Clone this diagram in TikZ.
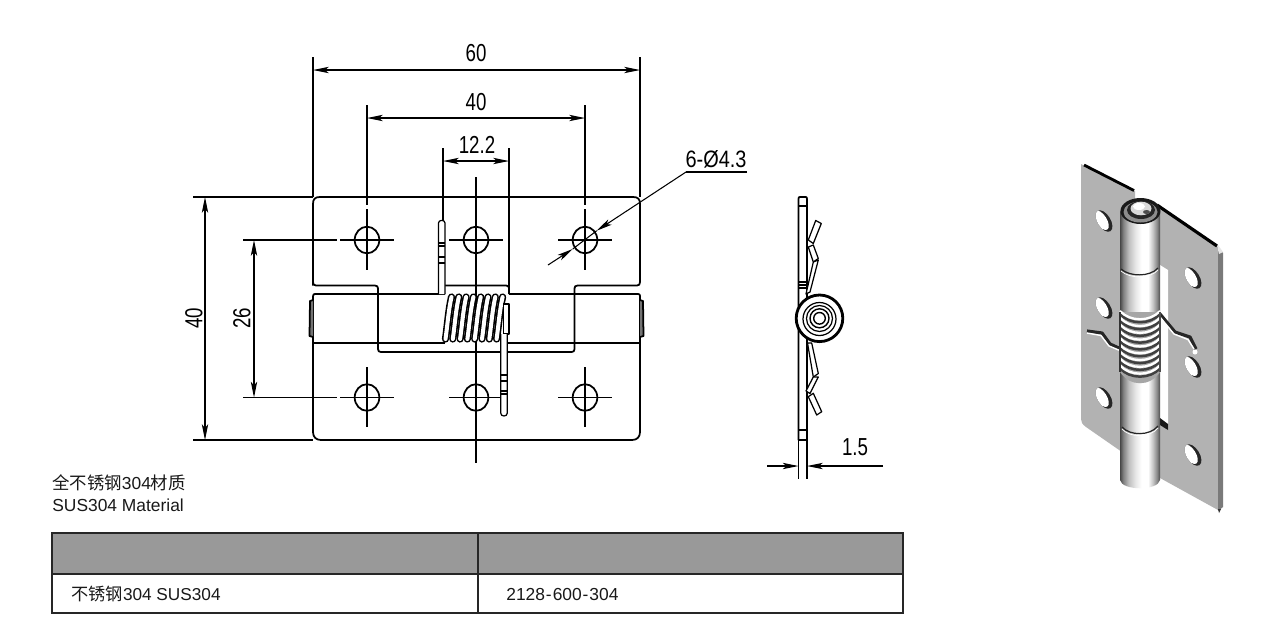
\documentclass[tikz,border=0pt]{standalone}
\usepackage{fontspec}
\setmainfont{Liberation Sans}
\newfontfamily\cjk{Noto Sans CJK SC}
\newfontfamily\dimf[FakeStretch=0.76]{Liberation Sans}
\usetikzlibrary{arrows.meta}
\pgfdeclarehorizontalshading{barrelshade}{100bp}{
 color(0bp)=(black!72); color(25bp)=(black!72); color(29bp)=(black!50); color(36bp)=(black!25);
 color(44bp)=(black!10); color(52bp)=(white); color(60bp)=(white); color(66bp)=(black!22);
 color(71bp)=(black!45); color(75bp)=(black!70); color(100bp)=(black!70)}
\tikzset{
 outline/.style={line width=1pt,black,line join=round},
 thinl/.style={line width=0.6pt,black},
 dimarrow/.style={line width=0.6pt,black,{Stealth[length=9pt,width=3.6pt,inset=2.2pt]}-{Stealth[length=9pt,width=3.6pt,inset=2.2pt]}},
 endarrow/.style={line width=0.6pt,black,-{Stealth[length=9pt,width=3.6pt,inset=2.2pt]}},
 dimtext/.style={font=\dimf\fontsize{14}{16}\selectfont,inner sep=0pt},
 note/.style={font=\fontsize{9.9}{12}\selectfont,inner sep=0pt,anchor=west,text=black!90},
 partedge/.style={line width=0.7pt,black,fill=white,line join=round},
}
\newcommand{\isohole}[2]{%
 \begin{scope}[shift={(#1,#2)},rotate=-58]
  \begin{scope}
   \clip (0,0) circle[x radius=12,y radius=6.5];
   \fill[black!85] (-14,-9) rectangle (14,9);
   \fill[white] (-2,1.8) circle[x radius=11,y radius=5.3];
  \end{scope}
 \end{scope}}
\newcommand{\coilloop}[1]{%
 \draw[line width=4.1pt,black,line cap=round] (#1+7,297) .. controls (#1+4,310) and (#1+3,325) .. (#1+1,339);
 \draw[line width=2.3pt,white,line cap=round] (#1+7,297) .. controls (#1+4,310) and (#1+3,325) .. (#1+1,339);}
\newcommand{\isocoil}[1]{%
 \draw[line width=1.4pt,black!75] (1120,#1+1) .. controls (1130,#1+12) and (1150,#1+12) .. (1160,#1+1);
 \draw[line width=1.3pt,white] (1120,#1-2) .. controls (1130,#1+9) and (1150,#1+9) .. (1160,#1-2);}
\begin{document}
\begin{tikzpicture}[x=0.02cm,y=-0.02cm]
\useasboundingbox (0,0) rectangle (1282,627);
\fill[white] (0,0) rectangle (1282,627);

% ---------- front view: dimension and centre lines
\draw[thinl] (313,57) -- (313,197) (640,57) -- (640,197);
\draw[dimarrow] (313,70) -- (640,70);
\node[dimtext] (t60) at (476,53) {60};
\draw[thinl] (367,105) -- (367,205) (367,209) -- (367,270);
\draw[thinl] (585,105) -- (585,205) (585,209) -- (585,270);
\draw[dimarrow] (367,118) -- (585,118);
\node[dimtext] (t40a) at (476,102) {40};
\draw[thinl] (443,148) -- (443,222) (509,148) -- (509,294);
\draw[dimarrow] (443,161) -- (509,161);
\node[dimtext] (t122) at (477,145) {12.2};
\draw[thinl] (476,177) -- (476,463);
\draw[thinl] (193,197) -- (313,197) (193,440) -- (313,440);
\draw[dimarrow] (205,197) -- (205,440);
\node[dimtext,rotate=90] (t40b) at (194,318) {40};
\draw[thinl] (243,240) -- (337,240) (340,240) -- (394,240);
\draw[thinl] (243,397.5) -- (337,397.5) (340,397.5) -- (394,397.5);
\draw[dimarrow] (254,240) -- (254,397.5);
\node[dimtext,rotate=90] (t26) at (242,318) {26};
\draw[thinl] (449,240) -- (503,240) (558,240) -- (612,240);
\draw[thinl] (449,397.5) -- (503,397.5) (558,397.5) -- (612,397.5);
\draw[thinl] (367,367) -- (367,427) (585,367) -- (585,427);

% ---------- front view: plates
\draw[outline] (313,285.5) -- (313,204) .. controls (313,199) and (315,197) .. (320,197) -- (633,197)
  .. controls (638,197) and (640,199) .. (640,204) -- (640,282) .. controls (640,284.5) and (639,285.5) .. (637,285.5)
  -- (577.5,285.5) .. controls (575.5,285.5) and (574.5,286.5) .. (574.5,288.5) -- (574.5,349)
  .. controls (574.5,351) and (573.5,352) .. (571.5,352) -- (381,352)
  .. controls (379,352) and (378,351) .. (378,349) -- (378,288.5)
  .. controls (378,286.5) and (377,285.5) .. (375,285.5) -- (316,285.5)
  .. controls (314,285.5) and (313,284.5) .. (313,282);
\draw[outline] (313,296) .. controls (313,294.5) and (314,294) .. (315,294) -- (445,294);
\draw[outline] (509,294) -- (638,294) .. controls (639.5,294) and (640,294.5) .. (640,296);
\draw[outline] (313,296) -- (313,432) .. controls (313,437) and (316,440) .. (321,440) -- (632,440)
  .. controls (637,440) and (640,437) .. (640,432) -- (640,296);
\draw[outline] (313,342.7) -- (445,342.7) (505,342.7) -- (640,342.7);
\draw[outline] (445,285.5) -- (506,285.5) .. controls (508,285.5) and (509,286.5) .. (509,288) -- (509,294);
% pin ends
\draw[outline,fill=black!55] (313,300) -- (310,301) -- (309.5,336) -- (313,337);
\draw[outline,fill=black!55] (640,300) -- (643,301) -- (643.5,336) -- (640,337);
% holes
\foreach \hx in {367,476,585}\foreach \hy in {240,397.5}
  \draw[outline] (\hx,\hy) circle[x radius=12.3,y radius=13.3];
% spring
\foreach \ci in {0,...,7}{\pgfmathsetmacro\cx{444.5+7.3*\ci}\coilloop{\cx}}
% upper arm
\draw[partedge] (438.5,294) -- (438.5,223) .. controls (438.5,219.5) and (445,219.5) .. (445,223) -- (445,294);
\draw[thinl] (438.5,243) -- (445,243) (438.5,246) -- (445,246) (438.5,257) -- (445,257) (438.5,263) -- (445,263);
% lower arm
\draw[partedge] (503.3,304) rectangle (509,334);
\draw[partedge] (500.7,334) -- (500.7,413) .. controls (500.7,417) and (507.3,417) .. (507.3,413) -- (507.3,334);
\draw[thinl] (500.7,375) -- (507.3,375) (500.7,381) -- (507.3,381) (500.7,391) -- (507.3,391) (500.7,394) -- (507.3,394);

% ---------- hole leader
\coordinate (lead0) at (747,172);
\coordinate (lead1) at (686,172);
\coordinate (tipa) at (596.7,230.7);
\coordinate (tipb) at (572.7,249);
\coordinate (leadend) at (548,265);
\draw[thinl] (lead0) -- (lead1);
\draw[endarrow] (lead1) -- (tipa);
\draw[endarrow] (leadend) -- (tipb);
\draw[thinl] (tipa) -- (tipb);
\node[dimtext] (tdia) at (716,159) {\fontsize{13.5}{15}\selectfont\addfontfeature{FakeStretch=0.84}6-Ø4.3};

% ---------- side view
\draw[thinl] (798.5,440) -- (798.5,479) (807,440) -- (807,479);
\draw[endarrow] (767,466) -- (798.5,466);
\draw[endarrow] (883,466) -- (807,466);
\node[dimtext] (t15) at (855,447) {1.5};
\draw[outline] (798.5,440) -- (798.5,199) .. controls (798.5,197) and (799,197) .. (800,197) -- (805.5,197)
  .. controls (806.5,197) and (807,197) .. (807,199) -- (807,440) -- cycle;
\draw[outline] (798.5,206) -- (807,206) (798.5,430) -- (807,430);
\draw[thinl] (798.5,282) -- (807,282) (798.5,285) -- (807,285) (798.5,288) -- (807,288);
% side-view spring arms
\draw[partedge] (815.7,220.5) -- (821.3,223.5) -- (813.3,243.5) -- (808.3,240) -- cycle;
\draw[partedge] (808.3,247) -- (813.3,245) -- (818.3,258.5) -- (813.3,262) -- cycle;
\draw[partedge] (813.3,262) -- (818.3,260) -- (810,292) -- (806,294) -- cycle;
\draw[partedge] (807.5,343) -- (811.7,343) -- (818.3,373.5) -- (813.3,377) -- cycle;
\draw[partedge] (813.3,377) -- (818.3,377) -- (810,393.5) -- (806,391) -- cycle;
\draw[partedge] (808.3,396.7) -- (813.3,393.3) -- (821.7,411.7) -- (816.7,415) -- cycle;
% coil end view
\draw[line width=1.6pt,black,fill=white] (819.5,318.3) circle[radius=23.3];
\draw[line width=0.7pt,black] (819.5,319) circle[radius=16.5];
\draw[line width=0.7pt,black] (819.5,318.5) circle[radius=13];
\draw[line width=0.8pt,black] (819.5,318.3) circle[radius=9.5];
\draw[line width=0.8pt,black] (819.5,318.3) circle[radius=5.8];

% ---------- texts and table
\node[note] (mat1) at (52,483) {{\cjk 全不锈钢}304{\cjk 材质}};
\node[note] (mat2) at (52,505) {SUS304 Material};
\fill[black!40] (52,533) rectangle (903,574);
\draw[line width=0.85pt,black!85] (52,533) rectangle (903,613);
\draw[line width=0.85pt,black!85] (52,574) -- (903,574) (478,533) -- (478,613);
\node[note,font=\fontsize{9.8}{12}\selectfont] (cell1) at (71,594) {{\cjk 不锈钢}304 SUS304};
\node[note] (cell2) at (506,594) {2128\kern.55pt-\kern.55pt600\kern.55pt-\kern.55pt304};

% ---------- isometric view
\fill[black!30] (1081,164) -- (1135,191) -- (1135,225) -- (1122,452) -- (1086,427) .. controls (1082,424) and (1081,422) .. (1081,419) -- cycle;
\draw[line width=1.6pt,black] (1084,165) -- (1134,190.5);
\fill[black!30] (1155,204) -- (1218,247) -- (1218,510) -- (1160,478) -- (1150,300) -- cycle;
\fill[black!52] (1218,247) -- (1223,253) -- (1223,507) -- (1218,511) -- cycle;
\fill[black!10] (1218,245) -- (1223,252) -- (1219,254) -- (1218,250) -- cycle;
\draw[line width=1.8pt,black] (1157,205) -- (1217,246);
\fill[black!80] (1218,509) -- (1221,509) -- (1219,513) -- cycle;
\fill[white] (1160,265) -- (1168,270) -- (1168,430) -- (1160,422) -- cycle;
\fill[black!90] (1160,418) -- (1168,424) -- (1168,430) -- (1160,425) -- cycle;
\isohole{1104}{221}\isohole{1104}{308}\isohole{1104}{398}
\isohole{1193}{278}\isohole{1193}{367}\isohole{1193}{455}
% spring wires
\draw[line width=1.8pt,black!85,line join=round] (1087,331) -- (1102,333) -- (1110,344) -- (1121,349);
\draw[line width=0.8pt,white,line join=round] (1087,333) -- (1101,335.5) -- (1109,346) -- (1121,351);
\draw[line width=1.8pt,black!85,line join=round] (1160,314) -- (1175,332) -- (1190,337) -- (1196,349);
\draw[line width=0.8pt,white,line join=round] (1160,317) -- (1174,334) -- (1188,339.5) -- (1194,349);
\fill[white] (1195,352) circle[radius=2.5];
% barrel
\shade[shading=barrelshade] (1120,212) -- (1120,480) .. controls (1122,491) and (1158,491) .. (1160,480) -- (1160,212) .. controls (1158,200) and (1122,200) .. (1120,212) -- cycle;
\draw[line width=0.7pt,black!85] (1121,269) .. controls (1130,277) and (1150,277) .. (1158,268);
\draw[line width=0.7pt,black!85] (1122,427) .. controls (1130,436) and (1150,436) .. (1158,426);
\draw[line width=0.4pt,white] (1121,271) .. controls (1130,279) and (1150,279) .. (1158,270);
\draw[line width=0.4pt,white] (1122,429) .. controls (1130,438) and (1150,438) .. (1158,428);
% coils on barrel
\fill[black!35] (1120,312) -- (1160,312) -- (1160,372) .. controls (1150,387) and (1130,387) .. (1120,372) -- cycle;
\foreach \ci in {0,...,8}{\pgfmathsetmacro\cy{313+6.8*\ci}\isocoil{\cy}}
\draw[line width=0.9pt,black!80] (1120,312) -- (1120,372);
\draw[line width=0.7pt,black!70] (1160,312) -- (1160,372);
% barrel head
\fill[black!90] (1140.5,211) circle[x radius=20,y radius=13];
\fill[black!45] (1140.5,212) circle[x radius=17,y radius=10.5];
\fill[black!85] (1141,210) circle[x radius=14,y radius=9];
\fill[black!15] (1141,208.5) circle[x radius=10.5,y radius=6.8];
\fill[white] (1139,206.5) circle[x radius=6,y radius=3.5];
\fill[black!70] (1146.5,212) circle[x radius=3.5,y radius=2];
\end{tikzpicture}
\end{document}
